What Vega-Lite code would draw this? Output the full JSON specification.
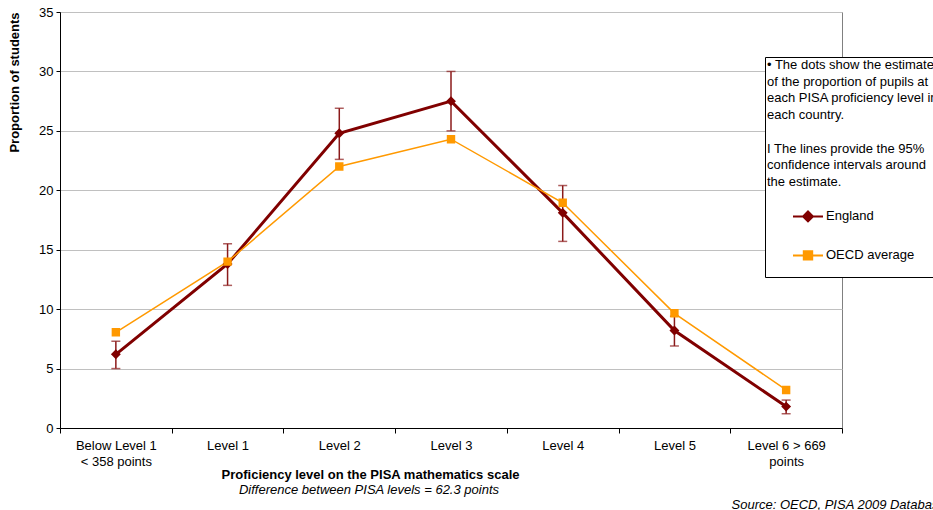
{
  "$schema": "https://vega.github.io/schema/vega-lite/v6.json",
  "width": 782,
  "height": 416,
  "autosize": {"type": "none"},
  "padding": {"left": 60, "top": 12, "right": 91, "bottom": 82},
  "background": "white",
  "config": {
    "font": "Liberation Sans",
    "view": {"stroke": "#808080", "strokeWidth": 1}
  },
  "data": {
    "values": [
      {"level": "Below Level 1\n< 358 points", "series": "England", "value": 6.2, "lo": 5.0, "hi": 7.3},
      {"level": "Level 1", "series": "England", "value": 13.8, "lo": 12.0, "hi": 15.5},
      {"level": "Level 2", "series": "England", "value": 24.8, "lo": 22.6, "hi": 26.9},
      {"level": "Level 3", "series": "England", "value": 27.5, "lo": 25.0, "hi": 30.0},
      {"level": "Level 4", "series": "England", "value": 18.1, "lo": 15.7, "hi": 20.4},
      {"level": "Level 5", "series": "England", "value": 8.2, "lo": 6.9, "hi": 9.4},
      {"level": "Level 6 > 669\npoints", "series": "England", "value": 1.8, "lo": 1.2, "hi": 2.35},
      {"level": "Below Level 1\n< 358 points", "series": "OECD average", "value": 8.05},
      {"level": "Level 1", "series": "OECD average", "value": 14.0},
      {"level": "Level 2", "series": "OECD average", "value": 22.0},
      {"level": "Level 3", "series": "OECD average", "value": 24.3},
      {"level": "Level 4", "series": "OECD average", "value": 18.95},
      {"level": "Level 5", "series": "OECD average", "value": 9.65},
      {"level": "Level 6 > 669\npoints", "series": "OECD average", "value": 3.2}
    ]
  },
  "title": {
    "text": "Difference between PISA levels = 62.3 points",
    "orient": "bottom",
    "anchor": "middle",
    "frame": "group",
    "font": "Liberation Sans",
    "fontStyle": "italic",
    "fontWeight": "normal",
    "fontSize": 13,
    "color": "black",
    "dx": -82,
    "dy": -29,
    "offset": 2
  },
  "resolve": {"axis": {"y": "independent"}},
  "layer": [
    {
      "transform": [{"filter": "datum.series === 'England'"}],
      "mark": {"type": "rule", "color": "#8B1A1A", "strokeWidth": 1.5},
      "encoding": {
        "x": {"field": "level", "type": "nominal", "sort": null},
        "y": {
          "field": "lo",
          "type": "quantitative",
          "axis": {
            "orient": "right",
            "title": "Source: OECD, PISA 2009 Database",
            "titleAngle": 0,
            "titleX": -111,
            "titleY": 496,
            "titleAlign": "left",
            "titleBaseline": "alphabetic",
            "titleFont": "Liberation Sans",
            "titleFontStyle": "italic",
            "titleFontWeight": "normal",
            "titleFontSize": 13,
            "titleColor": "black",
            "labels": false,
            "ticks": false,
            "domain": false,
            "grid": false
          }
        },
        "y2": {"field": "hi"}
      }
    },
    {
      "transform": [{"filter": "datum.series === 'England'"}],
      "mark": {"type": "tick", "color": "#8B1A1A", "thickness": 1.5, "size": 9},
      "encoding": {
        "x": {"field": "level", "type": "nominal", "sort": null},
        "y": {"field": "lo", "type": "quantitative", "axis": null}
      }
    },
    {
      "transform": [{"filter": "datum.series === 'England'"}],
      "mark": {"type": "tick", "color": "#8B1A1A", "thickness": 1.5, "size": 9},
      "encoding": {
        "x": {"field": "level", "type": "nominal", "sort": null},
        "y": {"field": "hi", "type": "quantitative", "axis": null}
      }
    },
    {
      "mark": {"type": "line"},
      "encoding": {
        "x": {
          "field": "level",
          "type": "nominal",
          "sort": null,
          "scale": {"type": "band", "paddingInner": 0, "paddingOuter": 0},
          "axis": {
            "title": "Proficiency level on the PISA mathematics scale",
            "titleFont": "Liberation Sans",
            "titleFontWeight": "bold",
            "titleFontSize": 13,
            "titleColor": "black",
            "titleX": 310,
            "titleY": 50,
            "titleAlign": "center",
            "titleBaseline": "alphabetic",
            "labelAngle": 0,
            "labelAlign": "center",
            "labelFlush": false,
            "labelExpr": "split(datum.label, '\\n')",
            "labelFontSize": 13,
            "labelColor": "black",
            "labelLineHeight": 16.5,
            "labelPadding": 12,
            "labelLimit": 0,
            "tickBand": "extent",
            "tickColor": "black",
            "tickSize": 5,
            "domainColor": "black",
            "grid": false
          }
        },
        "y": {
          "field": "value",
          "type": "quantitative",
          "scale": {"domain": [0, 35], "nice": false},
          "axis": {
            "values": [0, 5, 10, 15, 20, 25, 30, 35],
            "title": "Proportion of students",
            "titleFont": "Liberation Sans",
            "titleFontWeight": "bold",
            "titleFontSize": 13,
            "titleColor": "black",
            "titleAngle": 270,
            "titleX": -46,
            "titleY": 70,
            "titleAlign": "center",
            "titleBaseline": "middle",
            "labelFontSize": 13,
            "labelColor": "black",
            "labelPadding": 3,
            "tickColor": "black",
            "tickSize": 4,
            "domainColor": "black",
            "grid": true,
            "gridColor": "#C0C0C0",
            "gridWidth": 1
          }
        },
        "color": {
          "field": "series",
          "type": "nominal",
          "scale": {"domain": ["England", "OECD average"], "range": ["#800000", "#FF9900"]},
          "legend": {
            "title": [
              "• The dots show the estimate",
              "of the proportion of pupils at",
              "each PISA proficiency level in",
              "each country.",
              "\u200b",
              "I The lines provide the 95%",
              "confidence intervals around",
              "the estimate."
            ],
            "orient": "none",
            "legendX": 705,
            "legendY": 45,
            "strokeColor": "black",
            "fillColor": "white",
            "padding": 2,
            "titleFont": "Liberation Sans",
            "titleFontSize": 13,
            "titleFontWeight": "normal",
            "titleColor": "black",
            "titleLineHeight": 16.7,
            "titleLimit": 400,
            "titlePadding": 8,
            "labelFont": "Liberation Sans",
            "labelFontSize": 13,
            "labelColor": "black",
            "labelLimit": 300,
            "labelOffset": 2,
            "symbolSize": 900,
            "symbolOffset": 25,
            "symbolStrokeWidth": 2,
            "clipHeight": 39,
            "rowPadding": 0
          }
        },
        "strokeWidth": {
          "condition": {"test": "datum.series === 'England'", "value": 3},
          "value": 1.5
        }
      }
    },
    {
      "mark": {"type": "point", "filled": true, "opacity": 1, "strokeWidth": 0},
      "encoding": {
        "x": {"field": "level", "type": "nominal", "sort": null},
        "y": {"field": "value", "type": "quantitative", "axis": null},
        "shape": {
          "field": "series",
          "type": "nominal",
          "scale": {
            "domain": ["England", "OECD average"],
            "range": [
              "M-1,0L1,0M0,-0.33L0.33,0L0,0.33L-0.33,0Z",
              "M-1,0L1,0M-0.28,-0.28L0.28,-0.28L0.28,0.28L-0.28,0.28Z"
            ]
          }
        },
        "size": {"value": 900},
        "color": {"field": "series", "type": "nominal"}
      }
    }
  ]
}
